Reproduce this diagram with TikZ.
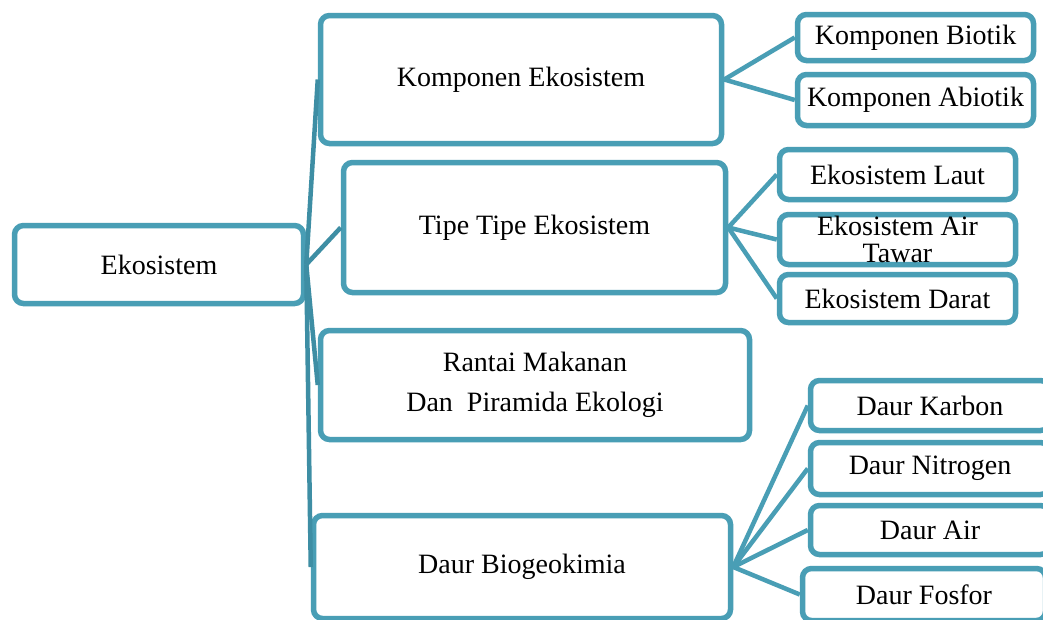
\documentclass[tikz,border=0pt]{standalone}
\usepackage{fontspec}
\setmainfont{Liberation Serif}
\definecolor{boxc}{RGB}{73,158,181}
\definecolor{trunkc}{RGB}{62,142,164}
\begin{document}
\begin{tikzpicture}[x=1pt,y=-1pt,
  box/.style={draw=boxc, line width=5.5pt, rounded corners=9pt, fill=white,
    inner sep=0pt, align=center, font=\fontsize{28}{28}\selectfont},
  link/.style={draw=boxc, line width=4.5pt},
  trunk/.style={draw=trunkc, line width=4.5pt}]
\clip (0,0) rectangle (1043,619);
\fill[white] (0,0) rectangle (1043,619);
% level 0
\node[box, minimum width=289pt, minimum height=78pt] (eko) at (159,264.5) {\raisebox{-2pt}{Ekosistem}};
% level 1
\node[box, minimum width=401pt, minimum height=128pt] (komp) at (521,79.5) {\raisebox{-2pt}{Komponen Ekosistem}};
\node[box, minimum width=382pt, minimum height=130pt] (tipe) at (534.5,227.5) {\raisebox{-2pt}{Tipe Tipe Ekosistem}};
\node[box, minimum width=429pt, minimum height=109pt, font=\fontsize{28}{40}\selectfont] (rantai) at (535,385) {Rantai Makanan\\Dan\ \ Piramida Ekologi};
\node[box, minimum width=417pt, minimum height=103pt] (daur) at (522,567) {Daur Biogeokimia};
% level 2
\node[box, minimum width=236pt, minimum height=46pt] (biotik) at (915.5,37.5) {Komponen Biotik};
\node[box, minimum width=236pt, minimum height=51pt] (abiotik) at (915.5,100) {\raisebox{-1pt}{Komponen Abiotik}};
\node[box, minimum width=236pt, minimum height=50pt] (laut) at (897.5,174.5) {Ekosistem Laut};
\node[box, minimum width=236pt, minimum height=50pt, font=\fontsize{28}{27}\selectfont] (tawar) at (897.5,239.5) {Ekosistem Air\\Tawar};
\node[box, minimum width=236pt, minimum height=48pt] (darat) at (897.5,298.5) {Ekosistem Darat};
\node[box, minimum width=239pt, minimum height=50pt] (karbon) at (930,405.5) {Daur Karbon};
\node[box, minimum width=239pt, minimum height=52pt] (nitrogen) at (930,468.5) {\raisebox{-1pt}{Daur Nitrogen}};
\node[box, minimum width=239pt, minimum height=49pt] (air) at (930,530) {Daur Air};
\node[box, minimum width=243pt, minimum height=52pt] (fosfor) at (924,594.5) {Daur Fosfor};
% connectors
\draw[trunk] (eko.east) -- (komp.west);
\draw[trunk] (eko.east) -- (tipe.west);
\draw[trunk] (eko.east) -- (rantai.west);
\draw[trunk] (eko.east) -- (daur.west);
\draw[link] (komp.east) -- (biotik.west);
\draw[link] (komp.east) -- (abiotik.west);
\draw[link] (tipe.east) -- (laut.west);
\draw[link] (tipe.east) -- (tawar.west);
\draw[link] (tipe.east) -- (darat.west);
\draw[link] (daur.east) -- (karbon.west);
\draw[link] (daur.east) -- (nitrogen.west);
\draw[link] (daur.east) -- (air.west);
\draw[link] (daur.east) -- (fosfor.west);
\end{tikzpicture}
\end{document}
